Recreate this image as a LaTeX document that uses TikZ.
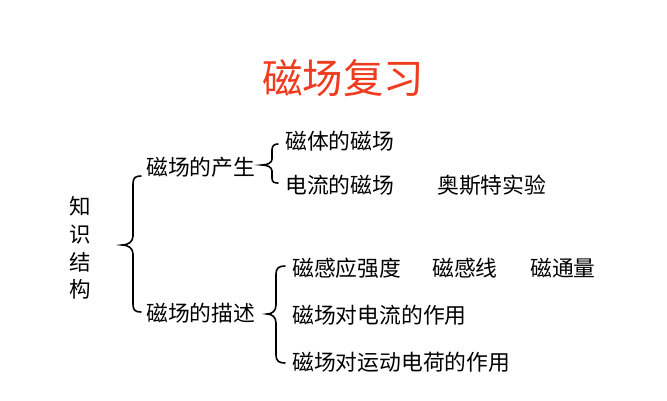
\documentclass[tikz,border=0pt]{standalone}
\usepackage{fontspec}
\setmainfont{Noto Sans CJK SC}
\definecolor{titlered}{RGB}{240,60,30}
\begin{document}
\begin{tikzpicture}[x=1pt,y=-1pt,
  txt/.style={anchor=west,inner sep=0pt,font=\fontsize{21.8}{24}\selectfont},
  bracestroke/.style={line width=1.6pt,line cap=round}]
\useasboundingbox (0,0) rectangle (667,400);
\node[inner sep=0pt,text=titlered,font=\fontsize{40.5}{44}\selectfont] (title) at (343,78) {磁场复习};
\node[inner sep=0pt,align=center,font=\fontsize{21.5}{27.7}\selectfont] (root) at (80,248) {知\\识\\结\\构};
\node[txt] (a) at (146,167) {磁场的产生};
\node[txt] (b) at (146,313) {磁场的描述};
\node[txt] (a1) at (285,141) {磁体的磁场};
\node[txt] (a2) at (285,185) {电流的磁场};
\node[txt] (a3) at (437,185) {奥斯特实验};
\node[txt] (b1) at (292,268) {磁感应强度};
\node[txt] (b2) at (432,268) {磁感线};
\node[txt] (b3) at (530,268) {磁通量};
\node[txt] (b4) at (292,315) {磁场对电流的作用};
\node[txt] (b5) at (292,362) {磁场对运动电荷的作用};
% big brace
\draw[bracestroke] (141,176) .. controls (135,176) and (133,178) .. (133,184)
  -- (133,236) .. controls (133,242) and (128,245) .. (122,245)
  .. controls (128,245) and (133,248) .. (133,254)
  -- (133,304) .. controls (133,310) and (135,312) .. (141,312);
% brace 1
\draw[bracestroke] (278,144) .. controls (274,144) and (272,146) .. (272,150)
  -- (272,159) .. controls (272,163) and (267,165) .. (262,165)
  .. controls (267,165) and (272,167) .. (272,171)
  -- (272,178) .. controls (272,182) and (274,183) .. (278,183);
% brace 2
\draw[bracestroke] (285,266) .. controls (279,266) and (276,268) .. (276,274)
  -- (276,305) .. controls (276,311) and (272,314) .. (267,314)
  .. controls (272,314) and (276,317) .. (276,323)
  -- (276,355) .. controls (276,361) and (279,363) .. (285,363);
\end{tikzpicture}
\end{document}
